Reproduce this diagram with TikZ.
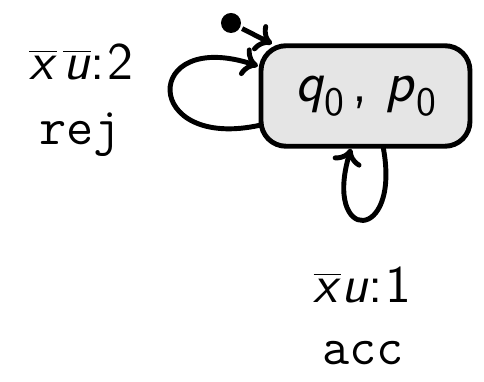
\documentclass[tikz,border=0pt]{standalone}
\usetikzlibrary{arrows.meta}
\newcommand{\sv}[1]{\textsf{\textit{#1}}}
\newcommand{\bv}[1]{$\overline{\mbox{\sv{#1}}}$}
\newcommand{\pedice}[1]{\raisebox{-0.24em}{\fontsize{11.5}{12}\selectfont #1}}
\begin{document}
\begin{tikzpicture}[>={To[length=4.5pt, width=8.5pt]}, line width=1.4pt,
  stato/.style={draw, fill=gray!20, rounded corners=0.25cm, inner sep=0pt, outer sep=0pt,
    minimum width=2.09cm, minimum height=1.005cm, font=\fontsize{16.5}{20}\selectfont\sffamily},
  etich/.style={anchor=base, inner sep=0pt, font=\fontsize{15}{18}\selectfont\sffamily},
  esito/.style={anchor=base, inner sep=0pt, font=\fontsize{15}{18}\selectfont\ttfamily}]
\useasboundingbox (0,0) rectangle (4.84,-3.82);

% stato (q0,p0)
\node[stato] (st) at (3.655,-0.96) {\sv{q}\pedice{0}\hspace{0.15em}, \sv{p}\pedice{0}};

% freccia iniziale
\node[circle, fill, inner sep=0pt, minimum size=0.2cm] (init) at (2.31,-0.23) {};
\coordinate (inend) at ([xshift=0.11cm, yshift=0.02cm]st.north west);
\draw[->] (init) -- (inend);

% cappio a sinistra
\coordinate (lout) at ([yshift=-0.29cm]st.west);
\coordinate (lin) at ([xshift=-0.03cm, yshift=0.30cm]st.west);
\draw[->] (lout) .. controls (1.41,-1.52) and (1.41,-0.27) .. (lin);
\node[etich] (lblsx) at (0.815,-0.80) {\bv{x}\hspace{0.12em}\bv{u}:\hspace{0.05em}2};
\node[esito] (rej) at (0.80,-1.45) {rej};

% cappio in basso
\coordinate (bout) at ([xshift=0.175cm]st.south);
\coordinate (bin) at ([xshift=-0.145cm, yshift=-0.025cm]st.south);
\draw[->] (bout) .. controls (4.02,-2.44) and (3.22,-2.44) .. (bin);
\node[etich] (lblgiu) at (3.625,-3.03) {\bv{x}\sv{u}:\hspace{0.05em}1};
\node[esito] (acc) at (3.63,-3.65) {acc};

\end{tikzpicture}
\end{document}
